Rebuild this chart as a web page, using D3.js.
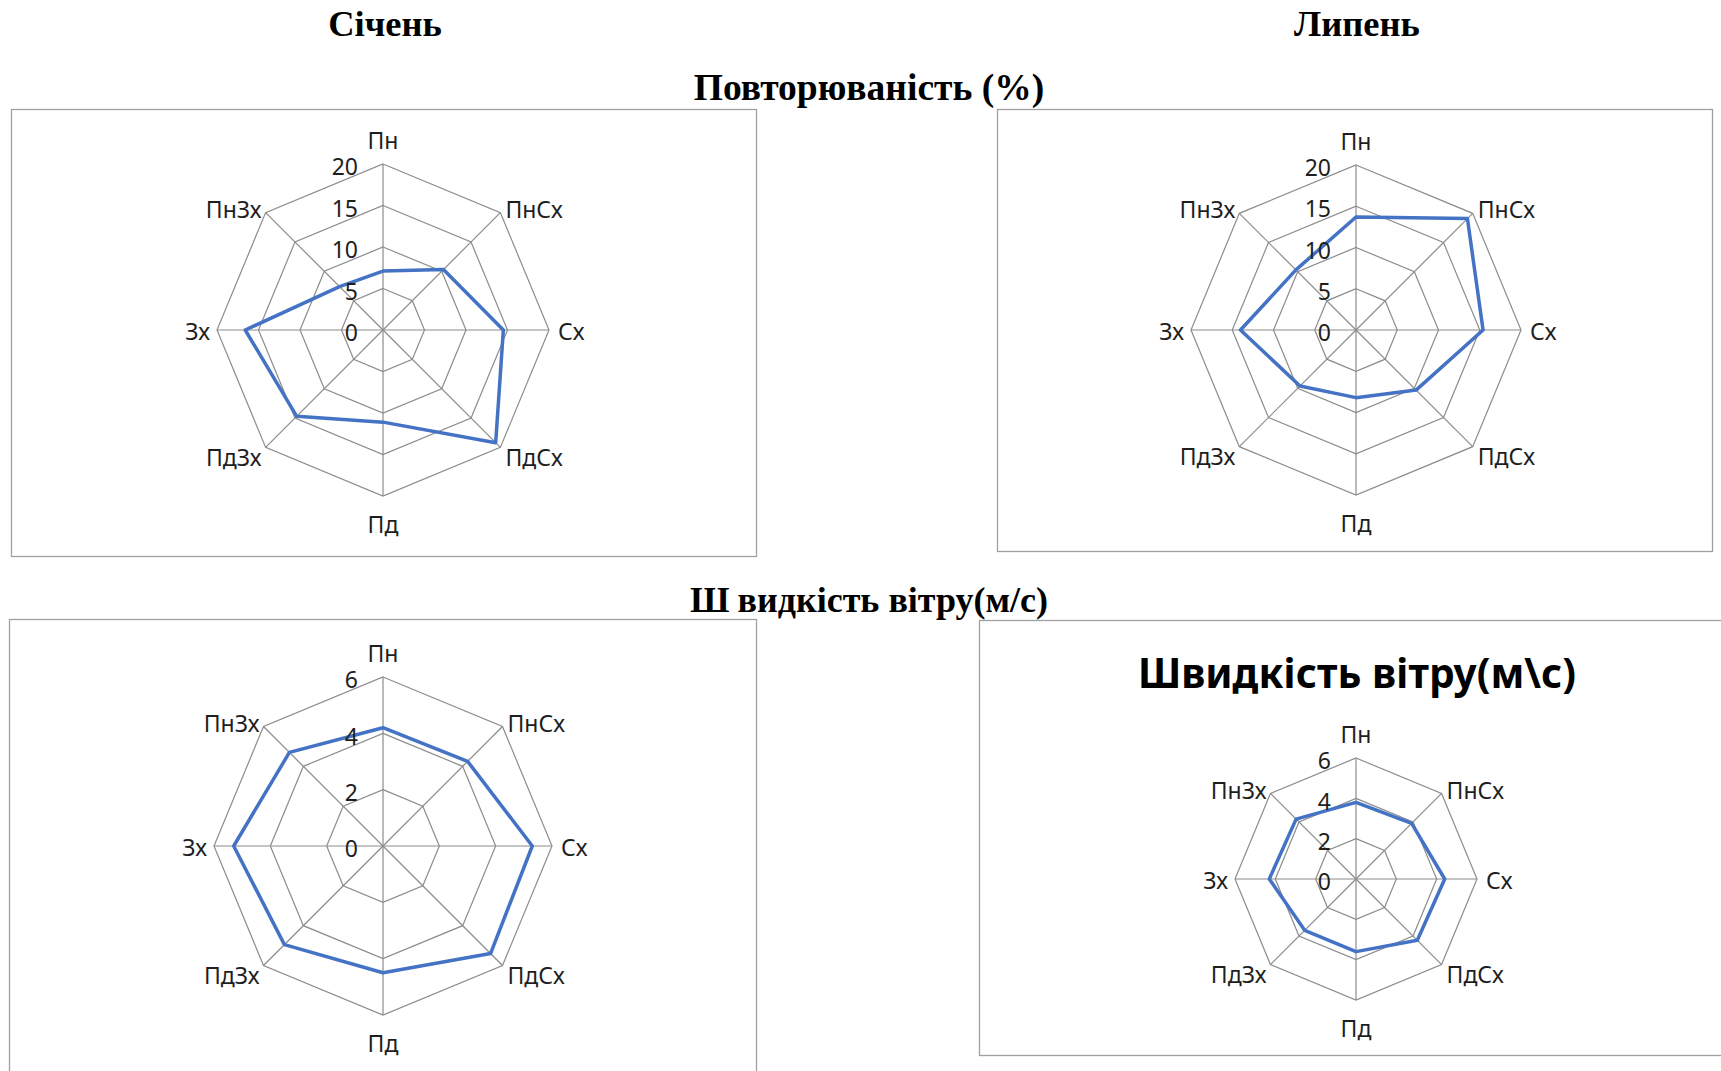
<!DOCTYPE html>
<html>
<head>
<meta charset="utf-8">
<script src="https://cdn.jsdelivr.net/npm/d3@7"></script>
<style>
  html, body { margin: 0; padding: 0; background: #fff; }
  svg { display: block; }
</style>
</head>
<body>
<script>
// ---------- DATA ----------
const directions = ["Пн", "ПнСх", "Сх", "ПдСх", "Пд", "ПдЗх", "Зх", "ПнЗх"];
const freqJanuary = [7.1, 10.3, 14.5, 19.2, 11.1, 14.7, 16.6, 7.4];
const freqJuly    = [13.7, 19.1, 15.4, 10.3, 8.2, 9.6, 14.0, 10.3];
const speedJanuary = [4.2, 4.25, 5.3, 5.4, 4.5, 4.95, 5.3, 4.7];
const speedJuly    = [3.8, 3.9, 4.4, 4.3, 3.6, 3.6, 4.3, 4.2];
const freqTicks  = [0, 5, 10, 15, 20];
const speedTicks = [0, 2, 4, 6];
const monthTitles = ["Січень", "Липень"];
const sectionTitles = ["Повторюваність (%)", "Швидкість вітру(м/с)"];
const innerChartTitle = "Швидкість вітру(м\\с)";

// ---------- LAYOUT ----------
const W = 1721, H = 1071;
const svg = d3.select("body").append("svg").attr("width", W).attr("height", H);
svg.append("rect").attr("width", W).attr("height", H).attr("fill", "#fff");

const panels = [
  { values: freqJanuary,  ticks: freqTicks,  cx: 383,  cy: 330, r: 166, frame: [11, 109, 745, 447] },
  { values: freqJuly,     ticks: freqTicks,  cx: 1356, cy: 330, r: 165, frame: [997, 109, 715, 442] },
  { values: speedJanuary, ticks: speedTicks, cx: 383,  cy: 846, r: 169, frame: [9, 619, 747, 480] },
  { values: speedJuly,    ticks: speedTicks, cx: 1356, cy: 879, r: 121, frame: [979, 620, 760, 435], title: innerChartTitle }
];

const serif = "'Liberation Serif', 'Times New Roman', serif";
const sans = "'Noto Sans', 'Open Sans', sans-serif";
const gridColor = "#8c8c8c";
const frameColor = "#a0a0a0";
const lineColor = "#4472C4";
const labelSize = 23;

// frames first
panels.forEach(p => {
  svg.append("rect")
    .attr("x", p.frame[0] + 0.5).attr("y", p.frame[1] + 0.5)
    .attr("width", p.frame[2]).attr("height", p.frame[3])
    .attr("fill", "#fff").attr("stroke", frameColor).attr("stroke-width", 1.3);
});

const n = directions.length;
const angle = d3.scaleLinear().domain([0, n]).range([0, 2 * Math.PI]);

panels.forEach(p => {
  const g = svg.append("g").attr("transform", `translate(${p.cx},${p.cy})`);
  const rScale = d3.scaleLinear().domain([0, d3.max(p.ticks)]).range([0, p.r]);
  const maxV = d3.max(p.ticks);

  const ringLine = d3.lineRadial()
    .angle((d, i) => angle(i))
    .radius(d => rScale(d))
    .curve(d3.curveLinearClosed);

  // rings
  p.ticks.filter(t => t > 0).forEach(t => {
    g.append("path")
      .attr("d", ringLine(directions.map(() => t)))
      .attr("fill", "none").attr("stroke", gridColor).attr("stroke-width", 1.2);
  });
  // spokes
  directions.forEach((d, i) => {
    const a = angle(i);
    g.append("line")
      .attr("x1", 0).attr("y1", 0)
      .attr("x2", rScale(maxV) * Math.sin(a)).attr("y2", -rScale(maxV) * Math.cos(a))
      .attr("stroke", gridColor).attr("stroke-width", 1.2);
  });

  // series
  g.append("path")
    .attr("d", ringLine(p.values))
    .attr("fill", "none").attr("stroke", lineColor)
    .attr("stroke-width", 3.5).attr("stroke-linejoin", "round");

  // tick labels
  g.selectAll("text.tick").data(p.ticks).enter().append("text")
    .attr("class", "tick")
    .attr("x", -25).attr("y", d => -rScale(d) + 5)
    .attr("text-anchor", "end").attr("dominant-baseline", "middle")
    .attr("font-family", sans).attr("font-size", labelSize).attr("fill", "#1e1e1e")
    .text(d => d);

  // category labels
  const R = rScale(maxV);
  directions.forEach((d, i) => {
    const a = angle(i);
    const tx = R * Math.sin(a), ty = -R * Math.cos(a);
    let x = tx, y = ty, anchor = "middle";
    const sx = Math.round(Math.sin(a) * 100) / 100, cy = Math.round(Math.cos(a) * 100) / 100;
    if (sx === 0) { y = cy > 0 ? ty - 21 : ty + 31; }
    else if (cy === 0) { x = sx > 0 ? tx + 9 : tx - 7; anchor = sx > 0 ? "start" : "end"; y = ty + 4; }
    else {
      x = sx > 0 ? tx + 5 : tx - 4;
      anchor = sx > 0 ? "start" : "end";
      y = cy > 0 ? ty - 1 : ty + 12;
    }
    g.append("text")
      .attr("x", x).attr("y", y)
      .attr("text-anchor", anchor).attr("dominant-baseline", "middle")
      .attr("font-family", sans).attr("font-size", labelSize).attr("fill", "#1e1e1e")
      .text(d);
  });

  if (p.title) {
    svg.append("text")
      .attr("x", p.cx + 1).attr("y", p.frame[1] + 68)
      .attr("text-anchor", "middle")
      .attr("font-family", sans).attr("font-weight", "bold").attr("font-size", 40.5)
      .attr("fill", "#000")
      .text(p.title);
  }
});

// page titles
svg.append("text").attr("x", 385).attr("y", 36).attr("text-anchor", "middle")
  .attr("font-family", serif).attr("font-weight", "bold").attr("font-size", 36.5)
  .text(monthTitles[0]);
svg.append("text").attr("x", 1357).attr("y", 36).attr("text-anchor", "middle")
  .attr("font-family", serif).attr("font-weight", "bold").attr("font-size", 36.5)
  .text(monthTitles[1]);
svg.append("text").attr("x", 869).attr("y", 100).attr("text-anchor", "middle")
  .attr("font-family", serif).attr("font-weight", "bold").attr("font-size", 37.5)
  .text(sectionTitles[0]);

const t2 = svg.append("text").attr("x", 869).attr("y", 612).attr("text-anchor", "middle")
  .attr("font-family", serif).attr("font-weight", "bold").attr("font-size", 36);
t2.append("tspan").text(sectionTitles[1].slice(0, 1));
t2.append("tspan").attr("dx", 8).text(sectionTitles[1].slice(1));
</script>
</body>
</html>
